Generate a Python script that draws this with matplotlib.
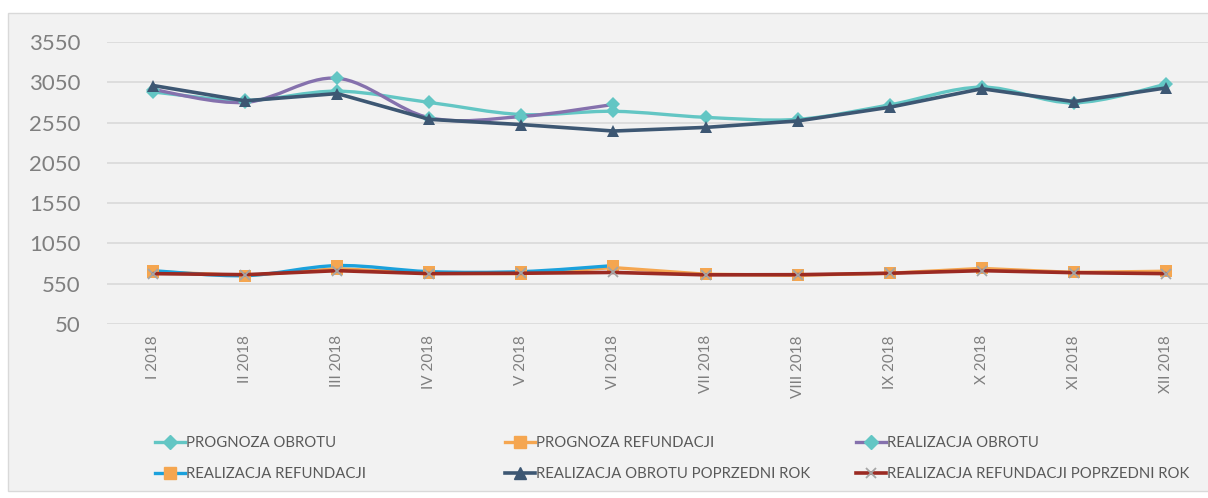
import matplotlib
matplotlib.use("Agg")
import matplotlib.pyplot as plt
from matplotlib.path import Path
from matplotlib.patches import PathPatch, Rectangle
from matplotlib.lines import Line2D
import numpy as np

plt.rcParams['font.family'] = ['Lato', 'DejaVu Sans']

# ---------------- data ----------------
months = ["I 2018", "II 2018", "III 2018", "IV 2018", "V 2018", "VI 2018",
          "VII 2018", "VIII 2018", "IX 2018", "X 2018", "XI 2018", "XII 2018"]
prognoza_obrotu = [2930, 2825, 2940, 2800, 2650, 2690, 2615, 2590, 2770, 2990, 2795, 3025]
prognoza_refundacji = [700, 650, 737, 680, 675, 750, 668, 655, 680, 740, 690, 705]
realizacja_obrotu = [2960, 2800, 3100, 2610, 2625, 2775]
realizacja_refundacji = [712, 650, 775, 700, 700, 775]
obrot_poprzedni_rok = [3010, 2820, 2910, 2590, 2525, 2445, 2490, 2570, 2740, 2970, 2810, 2980]
refundacja_poprzedni_rok = [675, 662, 712, 675, 680, 690, 660, 662, 680, 712, 687, 675]
y_ticks = [50, 550, 1050, 1550, 2050, 2550, 3050, 3550]
labels = ["PROGNOZA OBROTU", "PROGNOZA REFUNDACJI", "REALIZACJA OBROTU",
          "REALIZACJA REFUNDACJI", "REALIZACJA OBROTU POPRZEDNI ROK",
          "REALIZACJA REFUNDACJI POPRZEDNI ROK"]

# ---------------- style ----------------
TEAL = '#63C6C4'
ORANGE = '#F5A650'
PURPLE = '#8571AD'
BLUE = '#1BA1DC'
NAVY = '#3D5773'
RED = '#9B2A22'
GRAY_X = '#A5A5A5'
TXT = '#7F7F7F'
BG = '#F2F2F2'

W, H = 1208, 498
fig = plt.figure(figsize=(W / 100, H / 100), dpi=100, facecolor='white')
fig.patches.append(Rectangle((8 / W, 1 - 491 / H), (1230 - 8) / W, (491 - 13) / H,
                             transform=fig.transFigure, facecolor=BG,
                             edgecolor='#D9D9D9', linewidth=1.0, zorder=-10))

left, right = 107 / W, 1212 / W
bottom, top = 1 - 324 / H, 1 - 42 / H
ax = fig.add_axes([left, bottom, right - left, top - bottom])
ax.set_zorder(1)
ax.patch.set_visible(False)
for s in ax.spines.values():
    s.set_visible(False)

x_all = np.arange(len(months))
ax.set_xlim(-0.5, len(months) - 0.5)
ax.set_ylim(50, 3550)
ax.set_yticks(y_ticks)
ax.set_yticklabels([str(v) for v in y_ticks], fontsize=16, color=TXT)
ax.set_xticks(x_all)
ax.set_xticklabels(months, rotation=90, fontsize=11, color=TXT, va='top')
ax.tick_params(axis='y', length=0, pad=19)
ax.tick_params(axis='x', length=0, pad=8)
ax.grid(axis='y', color='#D9D9D9', linewidth=1.2)
ax.set_axisbelow(True)


def smooth_path(xs, ys):
    pts = np.column_stack([xs, ys]).astype(float)
    n = len(pts)
    verts = [pts[0]]
    codes = [Path.MOVETO]
    for i in range(n - 1):
        p0 = pts[i - 1] if i > 0 else pts[i]
        p1 = pts[i]
        p2 = pts[i + 1]
        p3 = pts[i + 2] if i + 2 < n else pts[i + 1]
        c1 = p1 + (p2 - p0) / 6.0
        c2 = p2 - (p3 - p1) / 6.0
        verts += [c1, c2, p2]
        codes += [Path.CURVE4] * 3
    return Path(verts, codes)


def series(vals, color, lw, marker, mcolor, ms, smooth, z, mec=None, mew=0):
    xs = np.arange(len(vals))
    if smooth:
        ax.add_patch(PathPatch(smooth_path(xs, vals), facecolor='none',
                               edgecolor=color, linewidth=lw, zorder=z,
                               capstyle='round', joinstyle='round'))
    else:
        ax.plot(xs, vals, color=color, linewidth=lw, zorder=z,
                solid_joinstyle='round', solid_capstyle='round')
    ax.plot(xs, vals, linestyle='none', marker=marker, markersize=ms,
            markerfacecolor=mcolor, markeredgecolor=mec or mcolor,
            markeredgewidth=mew, zorder=z + 0.5)


series(prognoza_obrotu, TEAL, 2.4, 'D', TEAL, 7, True, 3)
series(prognoza_refundacji, ORANGE, 2.4, 's', ORANGE, 8.5, False, 4)
series(realizacja_obrotu, PURPLE, 2.4, 'D', TEAL, 7, True, 5)
series(realizacja_refundacji, BLUE, 2.4, 's', ORANGE, 8.5, True, 6)
series(obrot_poprzedni_rok, NAVY, 2.6, '^', NAVY, 9, False, 7)
series(refundacja_poprzedni_rok, RED, 2.6, 'x', GRAY_X, 7, False, 8, mec=GRAY_X, mew=1.3)

# ---------------- legend ----------------
handles = [
    Line2D([], [], color=TEAL, lw=2.4, marker='D', ms=7, mfc=TEAL, mec=TEAL),
    Line2D([], [], color=ORANGE, lw=2.4, marker='s', ms=8.5, mfc=ORANGE, mec=ORANGE),
    Line2D([], [], color=PURPLE, lw=2.4, marker='D', ms=7, mfc=TEAL, mec=TEAL),
    Line2D([], [], color=BLUE, lw=2.4, marker='s', ms=8.5, mfc=ORANGE, mec=ORANGE),
    Line2D([], [], color=NAVY, lw=2.6, marker='^', ms=9, mfc=NAVY, mec=NAVY),
    Line2D([], [], color=RED, lw=2.6, marker='x', ms=7, mfc=GRAY_X, mec=GRAY_X, mew=1.3),
]
col_x = [155, 505, 856]
for c in range(3):
    idx = [c, c + 3]
    leg = fig.legend([handles[i] for i in idx], [labels[i] for i in idx],
                     loc='upper left', bbox_to_anchor=(col_x[c] / W, 1 - 436 / H),
                     bbox_transform=fig.transFigure, frameon=False, ncol=1,
                     fontsize=10.7, handlelength=2.0, handletextpad=0.1,
                     labelspacing=1.15, borderaxespad=0, borderpad=0)
    leg.set_zorder(2)
    for t in leg.get_texts():
        t.set_color('#595959')

fig.savefig('out.png', dpi=100, facecolor='white')
